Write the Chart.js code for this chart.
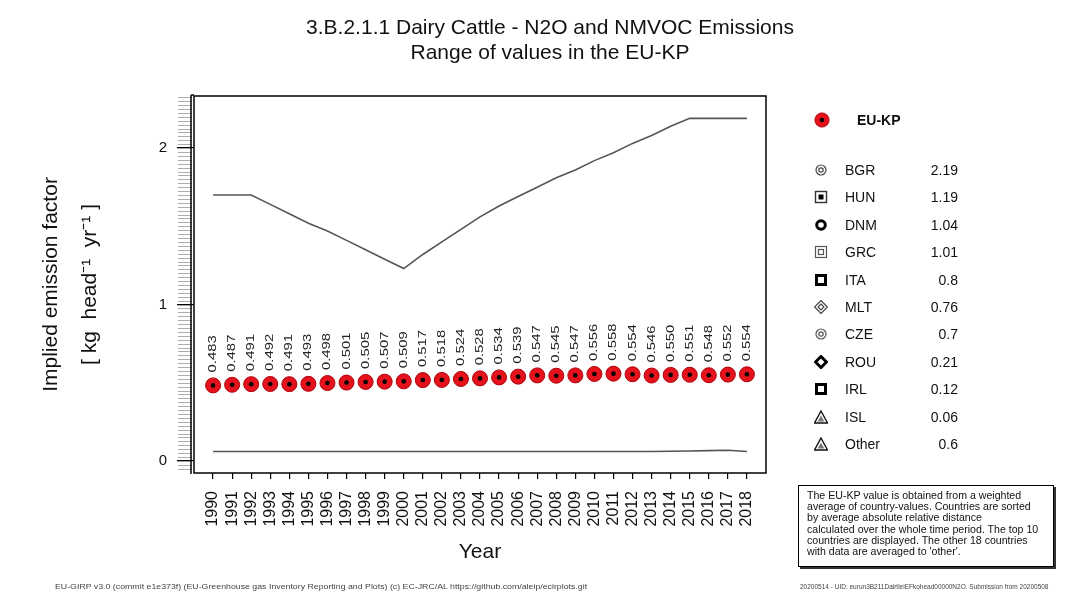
<!DOCTYPE html>
<html>
<head>
<meta charset="utf-8">
<script src="https://cdn.jsdelivr.net/npm/chart.js@4/dist/chart.umd.min.js"></script>
<style>
  body { margin: 0; background: #fff; font-family: "Liberation Sans", Arial, sans-serif; }
  #wrap { position: relative; width: 1065px; height: 592px; overflow: hidden; }
  #chartBox { position: absolute; left: 0; top: 0; width: 1065px; height: 592px; }
  #title { position: absolute; left: 270px; width: 560px; top: 14px; text-align: center; font-size: 21px; line-height: 25px; color: #111; }
  .row { position: absolute; left: 812px; width: 160px; height: 20px; line-height: 20px; font-size: 14px; color: #111; }
  .row svg { position: absolute; left: 2px; top: 3px; }
  .row .nm { position: absolute; left: 33px; }
  .row .val { position: absolute; right: 14px; }
  #note { position: absolute; left: 798px; top: 485px; width: 246px; height: 72px; border: 1.5px solid #000; box-shadow: 2px 2px 0 #333;
          padding: 4px 0 4px 8px; font-size: 10.6px; line-height: 11.2px; color: #111; }
  .foot { position: absolute; top: 583px; font-size: 6.5px; color: #444; white-space: nowrap; transform-origin: left top; }
</style>
</head>
<body>
<div id="wrap">
  <div id="chartBox"><canvas id="c"></canvas></div>
  <div id="title">3.B.2.1.1 Dairy Cattle - N2O and NMVOC Emissions<br>Range of values in the EU-KP</div>
  <div id="legend"></div>
  <div id="note">The EU-KP value is obtained from a weighted<br>average of country-values. Countries are sorted<br>by average absolute relative distance<br>calculated over the whole time period. The top 10<br>countries are displayed. The other 18 countries<br>with data are averaged to 'other'.</div>
  <div class="foot" style="left:55px;transform:scaleX(1.35)">EU-GIRP v3.0 (commit e1e373f) (EU-Greenhouse gas Inventory Reporting and Plots) (c) EC-JRC/AL https://github.com/aleip/ecirplots.git</div>
  <div class="foot" style="left:800px">20200514 - UID: eurun3B211DairtleiEFkohead00000N2O. Submission from 20200508</div>
</div>
<script>
// data
const years = [1990, 1991, 1992, 1993, 1994, 1995, 1996, 1997, 1998, 1999, 2000, 2001, 2002, 2003, 2004,
               2005, 2006, 2007, 2008, 2009, 2010, 2011, 2012, 2013, 2014, 2015, 2016, 2017, 2018];
const euKp = [0.483, 0.487, 0.491, 0.492, 0.491, 0.493, 0.498, 0.501, 0.505, 0.507, 0.509, 0.517, 0.518, 0.524, 0.528,
              0.534, 0.539, 0.547, 0.545, 0.547, 0.556, 0.558, 0.554, 0.546, 0.550, 0.551, 0.548, 0.552, 0.554];
const maxLine = [1.70, 1.70, 1.70, 1.64, 1.58, 1.52, 1.47, 1.41, 1.35, 1.29, 1.23, 1.32, 1.40, 1.48, 1.56,
                 1.63, 1.69, 1.75, 1.81, 1.86, 1.92, 1.97, 2.03, 2.08, 2.14, 2.19, 2.19, 2.19, 2.19];
const minLine = [0.06, 0.06, 0.06, 0.06, 0.06, 0.06, 0.06, 0.06, 0.06, 0.06, 0.06, 0.06, 0.06, 0.06, 0.06,
                 0.06, 0.06, 0.06, 0.06, 0.06, 0.06, 0.06, 0.06, 0.06, 0.062, 0.064, 0.066, 0.068, 0.06];
const yTicks = [0, 1, 2];
const countries = ['BGR', 'HUN', 'DNM', 'GRC', 'ITA', 'MLT', 'CZE', 'ROU', 'IRL', 'ISL', 'Other'];
const countryValues = ['2.19', '1.19', '1.04', '1.01', '0.8', '0.76', '0.7', '0.21', '0.12', '0.06', '0.6'];

// legend symbols (just looks)
const symbols = {
  BGR: '<circle cx="7" cy="7" r="5" fill="none" stroke="#444" stroke-width="1.2"/><circle cx="7" cy="7" r="2.2" fill="none" stroke="#444" stroke-width="1.2"/>',
  HUN: '<rect x="1.5" y="1.5" width="11" height="11" fill="none" stroke="#333" stroke-width="1.4"/><rect x="4.5" y="4.5" width="5" height="5" fill="#000"/>',
  DNM: '<circle cx="7" cy="7" r="4.3" fill="#fff" stroke="#000" stroke-width="3"/>',
  GRC: '<rect x="1.5" y="1.5" width="11" height="11" fill="none" stroke="#555" stroke-width="1.2"/><rect x="4.5" y="4.5" width="5" height="5" fill="none" stroke="#555" stroke-width="1.2"/>',
  ITA: '<rect x="2.5" y="2.5" width="9" height="9" fill="#fff" stroke="#000" stroke-width="3"/>',
  MLT: '<path d="M7 0.5 L13.5 7 L7 13.5 L0.5 7 Z" fill="none" stroke="#444" stroke-width="1.2"/><path d="M7 4 L10 7 L7 10 L4 7 Z" fill="none" stroke="#444" stroke-width="1.2"/>',
  CZE: '<circle cx="7" cy="7" r="5" fill="none" stroke="#555" stroke-width="1.2"/><circle cx="7" cy="7" r="2.2" fill="none" stroke="#555" stroke-width="1.2"/>',
  ROU: '<path d="M7 1.5 L12.5 7 L7 12.5 L1.5 7 Z" fill="#fff" stroke="#000" stroke-width="3"/>',
  IRL: '<rect x="2.5" y="2.5" width="9" height="9" fill="#fff" stroke="#000" stroke-width="3"/>',
  ISL: '<path d="M7 1 L13.5 13 L0.5 13 Z" fill="none" stroke="#111" stroke-width="1.4"/><path d="M7 5.5 L10.3 11.5 L3.7 11.5 Z" fill="#777"/>',
  Other: '<path d="M7 1 L13.5 13 L0.5 13 Z" fill="none" stroke="#111" stroke-width="1.4"/><path d="M7 5.5 L10.3 11.5 L3.7 11.5 Z" fill="#777"/>'
};

let html = '<div class="row" style="top:110px"><svg width="16" height="16" viewBox="0 0 14 14" style="left:2px;top:2px">' +
  '<circle cx="7" cy="7" r="6.2" fill="#e3121c" stroke="#a00" stroke-width="0.8"/><circle cx="7" cy="7" r="2" fill="#000"/></svg>' +
  '<span class="nm" style="left:45px;font-weight:bold">EU-KP</span></div>';
countries.forEach((c, i) => {
  const top = 160 + i * 27.4;
  html += '<div class="row" style="top:' + top + 'px"><svg width="14" height="14" viewBox="0 0 14 14">' + symbols[c] + '</svg>' +
    '<span class="nm">' + c + '</span><span class="val">' + countryValues[i] + '</span></div>';
});
document.getElementById('legend').innerHTML = html;

const FONT = '"Liberation Sans", Arial, sans-serif';

const framePlugin = {
  id: 'frame',
  afterDatasetsDraw(chart) {
    const ctx = chart.ctx;
    const a = chart.chartArea;
    const y = chart.scales.y;
    const meta = chart.getDatasetMeta(2);
    ctx.save();
    // value labels, a bit stretched along the text like the original
    ctx.font = '11px ' + FONT;
    ctx.fillStyle = '#222';
    ctx.textAlign = 'left';
    ctx.textBaseline = 'middle';
    meta.data.forEach((pt, i) => {
      ctx.save();
      ctx.translate(pt.x, pt.y - 13);
      ctx.rotate(-Math.PI / 2);
      ctx.scale(1.35, 1);
      ctx.fillText(euKp[i].toFixed(3), 0, 0);
      ctx.restore();
    });
    // minor ticks
    ctx.strokeStyle = '#999';
    ctx.lineWidth = 0.8;
    for (let v = -0.05; v <= y.max; v += 0.025) {
      const py = Math.round(y.getPixelForValue(v)) + 0.5;
      if (py < a.top || py > a.bottom) continue;
      ctx.beginPath();
      ctx.moveTo(a.left - 16, py);
      ctx.lineTo(a.left - 2, py);
      ctx.stroke();
    }
    // box
    ctx.strokeStyle = '#000';
    ctx.lineWidth = 1.5;
    ctx.strokeRect(a.left, a.top, a.right - a.left, a.bottom - a.top);
    ctx.beginPath();
    ctx.moveTo(a.left - 3, a.top - 1);
    ctx.lineTo(a.left - 3, a.bottom + 1);
    ctx.moveTo(a.left - 3, a.top - 1);
    ctx.lineTo(a.left, a.top - 1);
    ctx.stroke();
    ctx.restore();
  }
};

const xy = vals => years.map((yr, i) => ({ x: yr, y: vals[i] }));

new Chart(document.getElementById('c'), {
  type: 'line',
  data: {
    datasets: [
      { label: 'max', data: xy(maxLine), borderColor: '#555', borderWidth: 1.6, pointRadius: 0, fill: false, order: 2 },
      { label: 'min', data: xy(minLine), borderColor: '#555', borderWidth: 1.6, pointRadius: 0, fill: false, order: 2 },
      { label: 'EU-KP', data: xy(euKp), showLine: false, pointRadius: 7.5, pointBackgroundColor: '#e3121c',
        pointBorderColor: '#b00008', pointBorderWidth: 1, order: 1 },
      { label: 'EU-KP centre', data: xy(euKp), showLine: false, pointRadius: 2.3, pointBackgroundColor: '#000',
        pointBorderWidth: 0, order: 0 }
    ]
  },
  options: {
    responsive: true,
    maintainAspectRatio: false,
    animation: false,
    layout: { padding: { top: 96, right: 299, left: 0, bottom: 0 } },
    plugins: { legend: { display: false }, tooltip: { enabled: false } },
    scales: {
      x: {
        type: 'linear',
        min: 1989,
        max: 2019,
        afterBuildTicks: s => { s.ticks = years.map(v => ({ value: v })); },
        afterFit: s => { s.height = 119; },
        grid: { drawOnChartArea: false, tickLength: 6, color: '#000', lineWidth: 1.2 },
        border: { display: false },
        ticks: {
          autoSkip: false, minRotation: 90, maxRotation: 90, padding: 12,
          color: '#111', font: { family: FONT, size: 16 },
          callback: v => String(v)
        },
        title: { display: true, text: 'Year', color: '#111', font: { family: FONT, size: 21 }, padding: { top: 0, bottom: 27 } }
      },
      y: {
        min: -0.077,
        max: 2.333,
        afterBuildTicks: s => { s.ticks = yTicks.map(v => ({ value: v })); },
        afterFit: s => { s.width = 194; },
        grid: { drawOnChartArea: false, tickLength: 17, color: '#000', lineWidth: 1.2 },
        border: { display: false },
        ticks: { padding: 10, color: '#111', font: { family: FONT, size: 15 }, callback: v => String(v) },
        title: {
          display: true,
          text: ['Implied emission factor', '[ kg  head\u207B\u00B9  yr\u207B\u00B9 ]'],
          color: '#111',
          font: { family: FONT, size: 21, lineHeight: 1.85 },
          padding: { top: 32, bottom: 0 }
        }
      }
    }
  },
  plugins: [framePlugin]
});
</script>
</body>
</html>
